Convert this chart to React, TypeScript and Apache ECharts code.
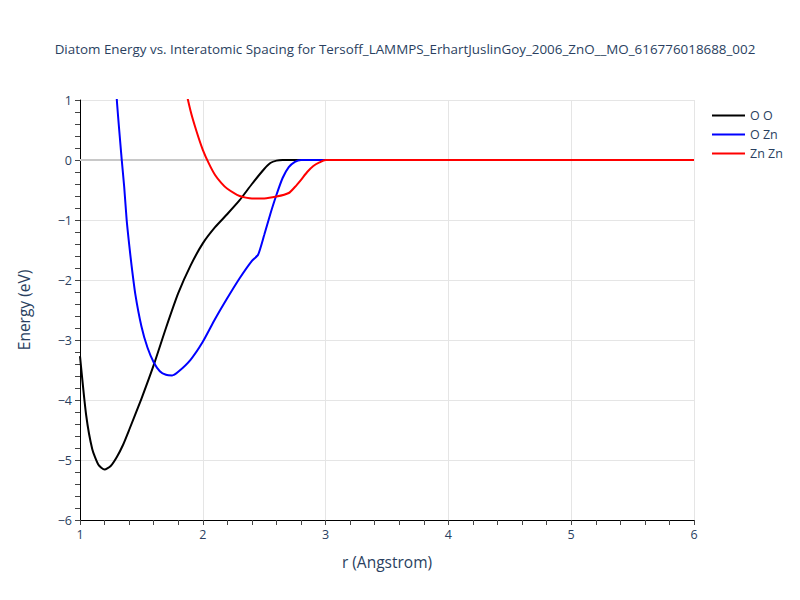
import React, { useEffect, useRef } from "react";
import * as echarts from "echarts";

const titleText =
  "Diatom Energy vs. Interatomic Spacing for Tersoff_LAMMPS_ErhartJuslinGoy_2006_ZnO__MO_616776018688_002";

const seriesNames = ["O O", "O Zn", "Zn Zn"];
const seriesColors = ["#000000", "#0000ff", "#ff0000"];

const rOO = [1.0, 1.05, 1.1, 1.15, 1.2, 1.25, 1.3, 1.35, 1.4, 1.5, 1.6, 1.7, 1.8, 1.9, 2.0, 2.1, 2.2, 2.3, 2.4, 2.5, 2.55, 2.6, 2.65, 3.0, 4.0, 5.0, 6.0];
const eOO = [-3.27, -4.25, -4.82, -5.08, -5.16, -5.1, -4.95, -4.75, -4.5, -3.98, -3.42, -2.8, -2.22, -1.76, -1.39, -1.12, -0.9, -0.67, -0.4, -0.15, -0.05, -0.01, 0, 0, 0, 0, 0];

const rOZn = [1.2, 1.25, 1.3, 1.34, 1.36, 1.38, 1.4, 1.42, 1.45, 1.5, 1.55, 1.6, 1.65, 1.7, 1.75, 1.8, 1.9, 2.0, 2.1, 2.2, 2.3, 2.4, 2.45, 2.5, 2.55, 2.6, 2.65, 2.7, 2.75, 2.8, 3.0, 4.0, 5.0, 6.0];
const eOZn = [5.0, 2.8, 1.0, 0.0, -0.45, -1.0, -1.4, -1.76, -2.23, -2.77, -3.13, -3.37, -3.52, -3.58, -3.59, -3.53, -3.33, -3.03, -2.65, -2.3, -1.97, -1.68, -1.58, -1.25, -0.9, -0.58, -0.3, -0.12, -0.03, 0, 0, 0, 0, 0];

const rZnZn = [1.8, 1.85, 1.9, 1.95, 2.0, 2.05, 2.1, 2.15, 2.2, 2.3, 2.4, 2.5, 2.6, 2.7, 2.75, 2.8, 2.85, 2.9, 2.95, 3.0, 4.0, 5.0, 6.0];
const eZnZn = [2.0, 1.3, 0.82, 0.47, 0.17, -0.06, -0.25, -0.38, -0.48, -0.6, -0.64, -0.64, -0.61, -0.55, -0.45, -0.33, -0.2, -0.1, -0.04, 0, 0, 0, 0];

const xTitle = "r (Angstrom)";
const yTitle = "Energy (eV)";

const textColor = "#2a3f5f";
const fontFamily = "Open Sans, Verdana, Arial, sans-serif";

function pairs(r: number[], e: number[]) {
  return r.map((v, i) => [v, e[i]]);
}

function fmt(v: number) {
  return v < 0 ? "\u2212" + String(-v) : String(v);
}

export default function App() {
  const ref = useRef<HTMLDivElement>(null);
  useEffect(() => {
    if (!ref.current) return;
    const chart = echarts.init(ref.current, undefined, { renderer: "svg" });
    const datasets = [pairs(rOO, eOO), pairs(rOZn, eOZn), pairs(rZnZn, eZnZn)];
    chart.setOption({
      animation: false,
      backgroundColor: "#ffffff",
      textStyle: { fontFamily },
      title: {
        text: titleText,
        left: 392,
        textAlign: "center",
        top: 29,
        textStyle: { fontSize: 13.4, fontWeight: "normal", color: textColor, fontFamily },
      },
      legend: {
        orient: "vertical",
        left: 699,
        top: 96,
        itemWidth: 33,
        itemHeight: 2,
        itemGap: 6,
        icon: "rect",
        textStyle: { fontSize: 12.5, color: textColor },
        data: seriesNames,
      },
      grid: { left: 72, right: 114, top: 92, bottom: 88, containLabel: false },
      xAxis: {
        type: "value",
        min: 1,
        max: 6,
        interval: 1,
        name: xTitle,
        nameLocation: "middle",
        nameGap: 34,
        nameTextStyle: { fontSize: 15.5, color: textColor },
        axisLine: { show: true, onZero: false, lineStyle: { color: "#000000", width: 1 } },
        axisTick: { show: true, length: 5, lineStyle: { color: "#444" } },
        minorTick: { show: true, splitNumber: 5, length: 5, lineStyle: { color: "#444" } },
        axisLabel: { fontSize: 12.5, color: textColor, formatter: fmt, margin: 8 },
        splitLine: { show: true, lineStyle: { color: "#e5e5e5", width: 1 } },
      },
      yAxis: {
        type: "value",
        min: -6,
        max: 1,
        interval: 1,
        name: yTitle,
        nameLocation: "middle",
        nameGap: 48,
        nameRotate: 90,
        nameTextStyle: { fontSize: 15.5, color: textColor },
        axisLine: { show: true, onZero: false, lineStyle: { color: "#000000", width: 1 } },
        axisTick: { show: true, length: 5, lineStyle: { color: "#444" } },
        minorTick: { show: true, splitNumber: 5, length: 5, lineStyle: { color: "#444" } },
        axisLabel: { fontSize: 12.5, color: textColor, formatter: fmt, margin: 8 },
        splitLine: { show: true, lineStyle: { color: "#e5e5e5", width: 1 } },
      },
      series: seriesNames.map((name, i) => ({
        name,
        type: "line",
        data: datasets[i],
        symbol: "none",
        smooth: 0.2,
        clip: true,
        lineStyle: { color: seriesColors[i], width: 2 },
        itemStyle: { color: seriesColors[i] },
        z: 3 + i,
        markLine:
          i === 0
            ? {
                silent: true,
                symbol: "none",
                label: { show: false },
                lineStyle: { color: "#c8c8c8", width: 2, type: "solid" },
                data: [{ yAxis: 0 }],
                z: 1,
              }
            : undefined,
      })),
    });
    return () => chart.dispose();
  }, []);
  return <div ref={ref} style={{ width: 800, height: 600 }} />;
}
